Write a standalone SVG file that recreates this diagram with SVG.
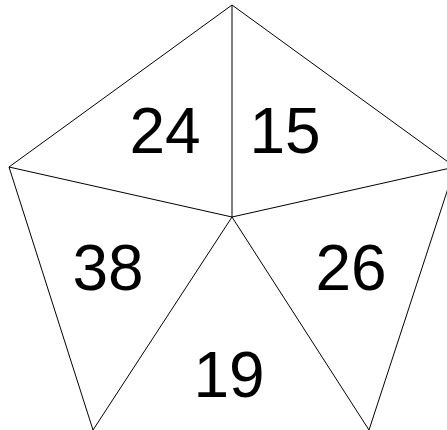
<svg xmlns="http://www.w3.org/2000/svg" width="447" height="430" viewBox="0 0 447 430">
<style>
.e{stroke:#000;stroke-width:1;fill:none}
.t{font-family:"Liberation Sans",Arial,sans-serif;font-size:64px;fill:#000;text-anchor:middle}
</style>
<rect width="447" height="430" fill="#fff"/>
<g id="connectors">
<path class="e" d="M9,167 L232,5 L455,167"/>
<path class="e" d="M9,167 L93,430"/>
<path class="e" d="M455,167 L369,430"/>
<path class="e" d="M232,217 L232,5 M232,217 L9,167 M232,217 L455,167 M232,217 L93,430 M232,217 L369,430"/>
</g>
<g id="n24"><text class="t" x="165" y="153">24</text></g>
<g id="n15"><text class="t" x="285" y="153">15</text></g>
<g id="n38"><text class="t" x="108" y="290">38</text></g>
<g id="n26"><text class="t" x="351" y="290">26</text></g>
<g id="n19"><text class="t" x="229" y="397">19</text></g>
</svg>
